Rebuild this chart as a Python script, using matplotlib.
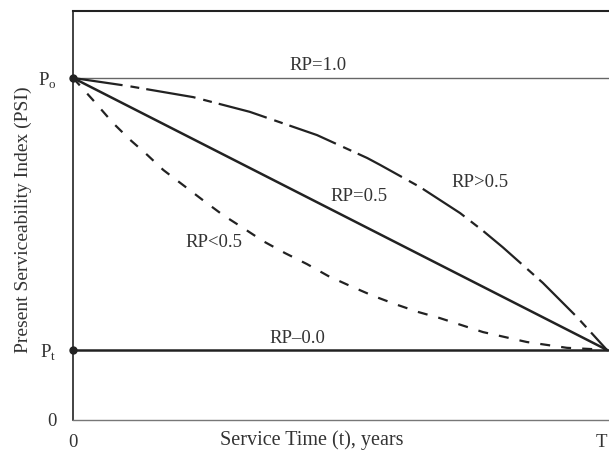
from matplotlib import pyplot as plt

plt.rcParams['font.family'] = ['Liberation Serif', 'DejaVu Serif']
plt.rcParams['mathtext.fontset'] = 'custom'
plt.rcParams['mathtext.rm'] = 'Liberation Serif'

# normalised PSI: Po = 1.0, Pt = terminal, T = 1.0 (service life)
Po = 1.0
Pt = 0.205

# RP > 0.5, dash-dot curve
t_hi = [0.0, 0.101, 0.225, 0.331, 0.457, 0.551, 0.575, 0.650, 0.725, 0.768,
        0.805, 0.880, 0.944, 1.0]
psi_hi = [1.0, 0.977, 0.944, 0.901, 0.833, 0.766, 0.746, 0.681, 0.605, 0.553,
          0.505, 0.401, 0.301, 0.205]

# RP < 0.5, dashed curve
t_lo = [0.0, 0.037, 0.075, 0.107, 0.139, 0.169, 0.206, 0.243, 0.281, 0.316, 0.356,
        0.397, 0.438, 0.478, 0.519, 0.562, 0.603, 0.646, 0.687, 0.768, 0.850,
        0.925, 1.0]
psi_lo = [1.0, 0.936, 0.868, 0.819, 0.775, 0.731, 0.687, 0.643, 0.599, 0.564, 0.523,
          0.488, 0.456, 0.421, 0.392, 0.363, 0.339, 0.316, 0.298, 0.257, 0.228,
          0.211, 0.205]

fig = plt.figure(figsize=(6.09, 4.5), dpi=100)
ax = fig.add_axes([0.12, 0.0667, 0.88, 0.909])
ax.set_xlim(0, 1.004)
ax.set_ylim(0, 1.196)

dark = '#222222'
ax.plot([0, 1.004], [Po, Po], color='#666666', lw=1.0)
ax.plot([0, 1.004], [Pt, Pt], color=dark, lw=1.8)
ax.plot([0, 1.0], [Po, Pt], color=dark, lw=1.8)
ax.plot(t_hi, psi_hi, color=dark, lw=1.6, dashes=(22.5, 3.6, 4, 3.2))
ax.plot(t_lo, psi_lo, color=dark, lw=1.6, dashes=(4.5, 5))
ax.plot([0, 0], [Po, Pt], 'o', color=dark, ms=5, clip_on=False)

txt = dict(fontsize=13.5, color='#333333', ha='center', va='center')
ax.text(0.458, 1.035, 'RP=1.0', **txt)
ax.text(0.762, 0.695, 'RP>0.5', **txt)
ax.text(0.536, 0.653, 'RP=0.5', **txt)
ax.text(0.264, 0.518, 'RP<0.5', **txt)
ax.text(0.421, 0.237, 'RP\u20130.0', **txt)

ax.set_xticks([0, 1.0])
ax.set_xticklabels(['0', 'T'])
ax.set_yticks([0, Pt, Po])
ax.set_yticklabels(['0', r'P$_\mathrm{t}$', r'P$_\mathrm{o}$'])
ax.tick_params(length=0, labelsize=13.5, labelcolor='#333333')
ax.tick_params(axis='y', pad=12)
ax.tick_params(axis='x', pad=10)
ax.get_xticklabels()[1].set_ha('right')

ax.set_xlabel('Service Time (t), years', fontsize=14.5, color='#333333', va='center')
ax.xaxis.set_label_coords(0.445, -0.05)
ax.set_ylabel('Present Serviceability Index (PSI)', fontsize=14, color='#333333', va='center')
ax.yaxis.set_label_coords(-0.093, 0.49)

ax.spines['right'].set_visible(False)
ax.spines['top'].set_color(dark)
ax.spines['top'].set_linewidth(1.5)
ax.spines['left'].set_color(dark)
ax.spines['left'].set_linewidth(1.2)
ax.spines['bottom'].set_color('#777777')
ax.spines['bottom'].set_linewidth(1.0)

fig.savefig('out.png', dpi=100)
